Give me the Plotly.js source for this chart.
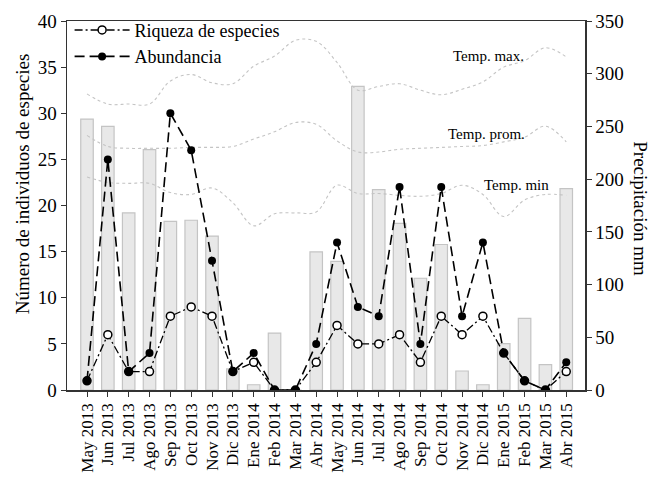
<!DOCTYPE html>
<html>
<head>
<meta charset="utf-8">
<script src="https://cdn.plot.ly/plotly-3.0.1.min.js"></script>
<style>html,body{margin:0;padding:0;background:#fff;}#chart{width:660px;height:478px;}</style>
</head>
<body>
<div id="chart"></div>
<script>
const months = ["May 2013","Jun 2013","Jul 2013","Ago 2013","Sep 2013","Oct 2013","Nov 2013","Dic 2013",
  "Ene 2014","Feb 2014","Mar 2014","Abr 2014","May 2014","Jun 2014","Jul 2014","Ago 2014","Sep 2014",
  "Oct 2014","Nov 2014","Dic 2014","Ene 2015","Feb 2015","Mar 2015","Abr 2015"];
const precipitacion = [257,250,168,228,160,161,146,20,5,54,0,131,122,288,190,158,106,138,18,5,44,68,24,191];
const abundancia = [1,25,2,4,30,26,14,2,4,0,0,5,16,9,8,22,5,22,8,16,4,1,0,3];
const riqueza = [1,6,2,2,8,9,8,2,3,0,0,3,7,5,5,6,3,8,6,8,4,1,0,2];
const tempMax = [32.1,31.0,31.0,31.0,33.5,34.2,33.3,33.2,35.1,36.2,37.9,37.8,35.5,32.5,32.9,33.2,32.5,32.0,32.6,33.4,35.0,35.7,37.1,36.1];
const tempProm = [27.6,26.4,26.2,26.2,26.2,26.3,26.3,26.4,27.2,28.0,29.0,28.8,27.0,25.8,25.8,26.1,26.2,26.3,26.4,26.5,26.9,27.4,28.6,26.9];
const tempMin = [23.1,22.5,22.4,22.4,21.4,21.2,21.9,20.3,17.8,19.1,19.2,19.3,22.2,21.3,21.3,21.1,21.0,21.3,22.2,21.2,18.8,20.6,21.2,21.1];

const FONT = "Liberation Serif, Times New Roman, serif";
const tempLine = {color:"#c4c4c4", width:1.1, dash:"dot", shape:"spline", smoothing:1};

const traces = [
  {type:"bar", x:months, y:precipitacion, yaxis:"y", width:0.6, showlegend:false,
   marker:{color:"#e8e8e8", line:{color:"#c4c4c4", width:1.2}}, hoverinfo:"skip"},
  {type:"scatter", mode:"lines", x:months, y:tempMax, yaxis:"y2", line:tempLine, showlegend:false},
  {type:"scatter", mode:"lines", x:months, y:tempProm, yaxis:"y2", line:tempLine, showlegend:false},
  {type:"scatter", mode:"lines", x:months, y:tempMin, yaxis:"y2", line:tempLine, showlegend:false},
  {type:"scatter", mode:"lines+markers", name:"Riqueza de especies", x:months, y:riqueza, yaxis:"y2",
   line:{color:"#000", width:1.3, dash:"8px,3px,2px,3px"},
   marker:{symbol:"circle", size:8, color:"#fff", line:{color:"#000", width:1.5}}},
  {type:"scatter", mode:"lines+markers", name:"Abundancia", x:months, y:abundancia, yaxis:"y2",
   line:{color:"#000", width:1.6, dash:"10px,5px"},
   marker:{symbol:"circle", size:8, color:"#000"}}
];

const layout = {
  width:660, height:478,
  margin:{l:67, r:75, t:18, b:88},
  paper_bgcolor:"#fff", plot_bgcolor:"#fff",
  font:{family:FONT, color:"#000", size:18},
  showlegend:true,
  legend:{x:0.005, y:1.025, xanchor:"left", yanchor:"top", bgcolor:"rgba(0,0,0,0)",
    font:{family:FONT, size:18}, tracegroupgap:0, itemwidth:55},
  xaxis:{type:"category", range:[-0.96, 23.9], showline:true, linecolor:"#333", linewidth:1.5,
    mirror:true, ticks:"outside", ticklen:5, tickcolor:"#333", tickangle:-90,
    tickfont:{family:FONT, size:17}, showgrid:false, zeroline:false},
  yaxis:{side:"right", range:[0,350], dtick:50, showline:true, linecolor:"#333", linewidth:1.5,
    ticks:"outside", ticklen:5, tickcolor:"#333", tickfont:{family:FONT, size:19},
    showgrid:false, zeroline:false},
  yaxis2:{overlaying:"y", side:"left", range:[0,40], dtick:5, showline:true, linecolor:"#333",
    linewidth:1.5, ticks:"outside", ticklen:5, tickcolor:"#333", tickfont:{family:FONT, size:19},
    showgrid:false, zeroline:false},
  annotations:[
    {text:"Temp. max.", x:19.25, y:36.2, xref:"x", yref:"y2", showarrow:false, font:{family:FONT, size:15}},
    {text:"Temp. prom.", x:19.15, y:27.8, xref:"x", yref:"y2", showarrow:false, font:{family:FONT, size:15}},
    {text:"Temp. min", x:20.6, y:22.2, xref:"x", yref:"y2", showarrow:false, font:{family:FONT, size:15}},
    {text:"Número de individuos de especies", xref:"paper", yref:"paper", x:-0.087, y:0.56,
     xanchor:"center", yanchor:"middle", textangle:-90, showarrow:false, font:{family:FONT, size:19}},
    {text:"Precipitación mm", xref:"paper", yref:"paper", x:1.108, y:0.49,
     xanchor:"center", yanchor:"middle", textangle:90, showarrow:false, font:{family:FONT, size:19}}
  ]
};

Plotly.newPlot("chart", traces, layout, {displayModeBar:false, staticPlot:true});
</script>
</body>
</html>
